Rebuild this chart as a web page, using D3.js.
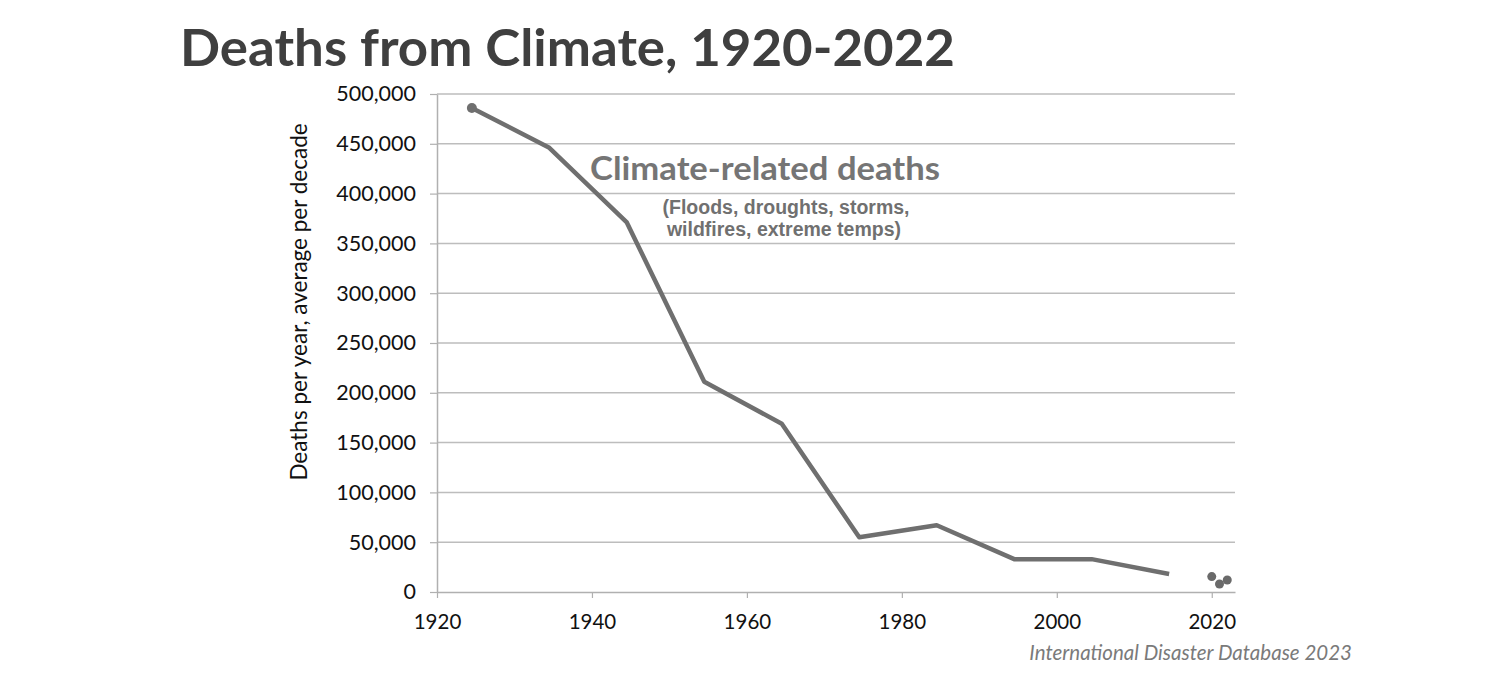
<!DOCTYPE html>
<html>
<head>
<meta charset="utf-8">
<script src="https://cdn.jsdelivr.net/npm/d3@7"></script>
<style>
  body { margin: 0; background: #fff; }
  svg { display: block; }
</style>
</head>
<body>
<div id="container"></div>
<script>
/* DATA */
const decadeYears = [1924.5, 1934.5, 1944.5, 1954.5, 1964.5, 1974.5, 1984.5, 1994.5, 2004.5, 2014.5]
const decadeDeaths = [486000, 446000, 371000, 211000, 169000, 55000, 67000, 33000, 33000, 18000]
const recentYears = [2020, 2021, 2022]
const recentDeaths = [15500, 8000, 12000]
const xTicks = [1920, 1940, 1960, 1980, 2000, 2020]
const yTicks = [0, 50000, 100000, 150000, 200000, 250000, 300000, 350000, 400000, 450000, 500000]

/* CONSTANTS */
const width = 1490,
  height = 680,
  margin = {top: 94, bottom: 88, left: 437, right: 255};

const svg = d3.select("#container").append("svg")
  .attr("width", width)
  .attr("height", height)

// SCALES
const xScale = d3.scaleLinear()
  .domain([1920, 2023])
  .range([margin.left, width - margin.right])

const yScale = d3.scaleLinear()
  .domain([0, 500000])
  .range([height - margin.bottom, margin.top])

// gridlines
svg.append("g")
  .selectAll("line")
  .data(yTicks.filter(d => d > 0))
  .join("line")
  .attr("x1", margin.left)
  .attr("x2", width - margin.right)
  .attr("y1", d => yScale(d))
  .attr("y2", d => yScale(d))
  .attr("stroke", "#bdbdbd")
  .attr("stroke-width", 1.5)

// AXES
const xAxis = d3.axisBottom(xScale).tickValues(xTicks).tickFormat(d3.format("d")).tickSize(6).tickSizeOuter(0)
const yAxis = d3.axisLeft(yScale).tickValues(yTicks).tickFormat(d3.format(",")).tickSize(7).tickSizeOuter(0)

const gx = svg.append("g")
  .attr("transform", `translate(0,${height - margin.bottom})`)
  .call(xAxis)
gx.select(".domain").attr("stroke", "#b0b0b0").attr("stroke-width", 1.5)
gx.selectAll(".tick line").attr("stroke", "#b0b0b0").attr("stroke-width", 1.2)
gx.selectAll(".tick text")
  .attr("dy", 0).attr("y", 37)
  .style("font-family", "Lato").style("font-size", "20.5px").attr("fill", "#111")

const gy = svg.append("g")
  .attr("transform", `translate(${margin.left},0)`)
  .call(yAxis)
gy.select(".domain").attr("stroke", "#b0b0b0").attr("stroke-width", 1.5)
gy.selectAll(".tick line").attr("stroke", "#b0b0b0").attr("stroke-width", 1.2)
gy.selectAll(".tick text")
  .attr("x", -21)
  .style("font-family", "Lato").style("font-size", "21.5px").attr("fill", "#111")

// LINE
const rows = decadeYears.map((y, i) => ({year: y, deaths: decadeDeaths[i]}))
const line = d3.line()
  .x(d => xScale(d.year))
  .y(d => yScale(d.deaths))

svg.append("path")
  .datum(rows)
  .attr("d", line)
  .attr("fill", "none")
  .attr("stroke", "#6f6f6f")
  .attr("stroke-width", 4.5)
  .attr("stroke-linejoin", "round")

svg.append("circle")
  .attr("cx", xScale(rows[0].year))
  .attr("cy", yScale(rows[0].deaths))
  .attr("r", 5)
  .attr("fill", "#6f6f6f")

const recent = recentYears.map((y, i) => ({year: y, deaths: recentDeaths[i]}))
svg.append("g")
  .selectAll("circle")
  .data(recent)
  .join("circle")
  .attr("cx", d => xScale(d.year))
  .attr("cy", d => yScale(d.deaths))
  .attr("r", 4.5)
  .attr("fill", "#6a6a6a")

// TEXT
svg.append("text")
  .attr("x", 180).attr("y", 66)
  .attr("textLength", 775).attr("lengthAdjust", "spacingAndGlyphs")
  .style("font-family", "Lato").style("font-weight", "bold").style("font-size", "52px")
  .attr("fill", "#3f3f3f")
  .text("Deaths from Climate, 1920-2022")

svg.append("text")
  .attr("transform", "translate(307,302) rotate(-90)")
  .attr("text-anchor", "middle")
  .style("font-family", "Lato").style("font-size", "22.5px")
  .attr("fill", "#111")
  .text("Deaths per year, average per decade")

svg.append("text")
  .attr("x", 590).attr("y", 180)
  .attr("textLength", 350).attr("lengthAdjust", "spacingAndGlyphs")
  .style("font-family", "Lato").style("font-weight", "bold").style("font-size", "32px")
  .attr("fill", "#757575")
  .text("Climate-related deaths")

const sub = ["(Floods, droughts, storms,", "wildfires, extreme temps)"]
svg.append("g")
  .selectAll("text")
  .data(sub)
  .join("text")
  .attr("x", (d, i) => 786 - i * 2)
  .attr("y", (d, i) => 214 + i * 22)
  .attr("text-anchor", "middle")
  .style("font-family", "Liberation Sans").style("font-weight", "bold").style("font-size", "19.5px")
  .attr("fill", "#707070")
  .text(d => d)

svg.append("text")
  .attr("x", 1352).attr("y", 660)
  .attr("text-anchor", "end")
  .style("font-family", "Lato").style("font-style", "italic").style("font-size", "20.5px")
  .attr("fill", "#7a7a7a")
  .text("International Disaster Database 2023")
</script>
</body>
</html>
